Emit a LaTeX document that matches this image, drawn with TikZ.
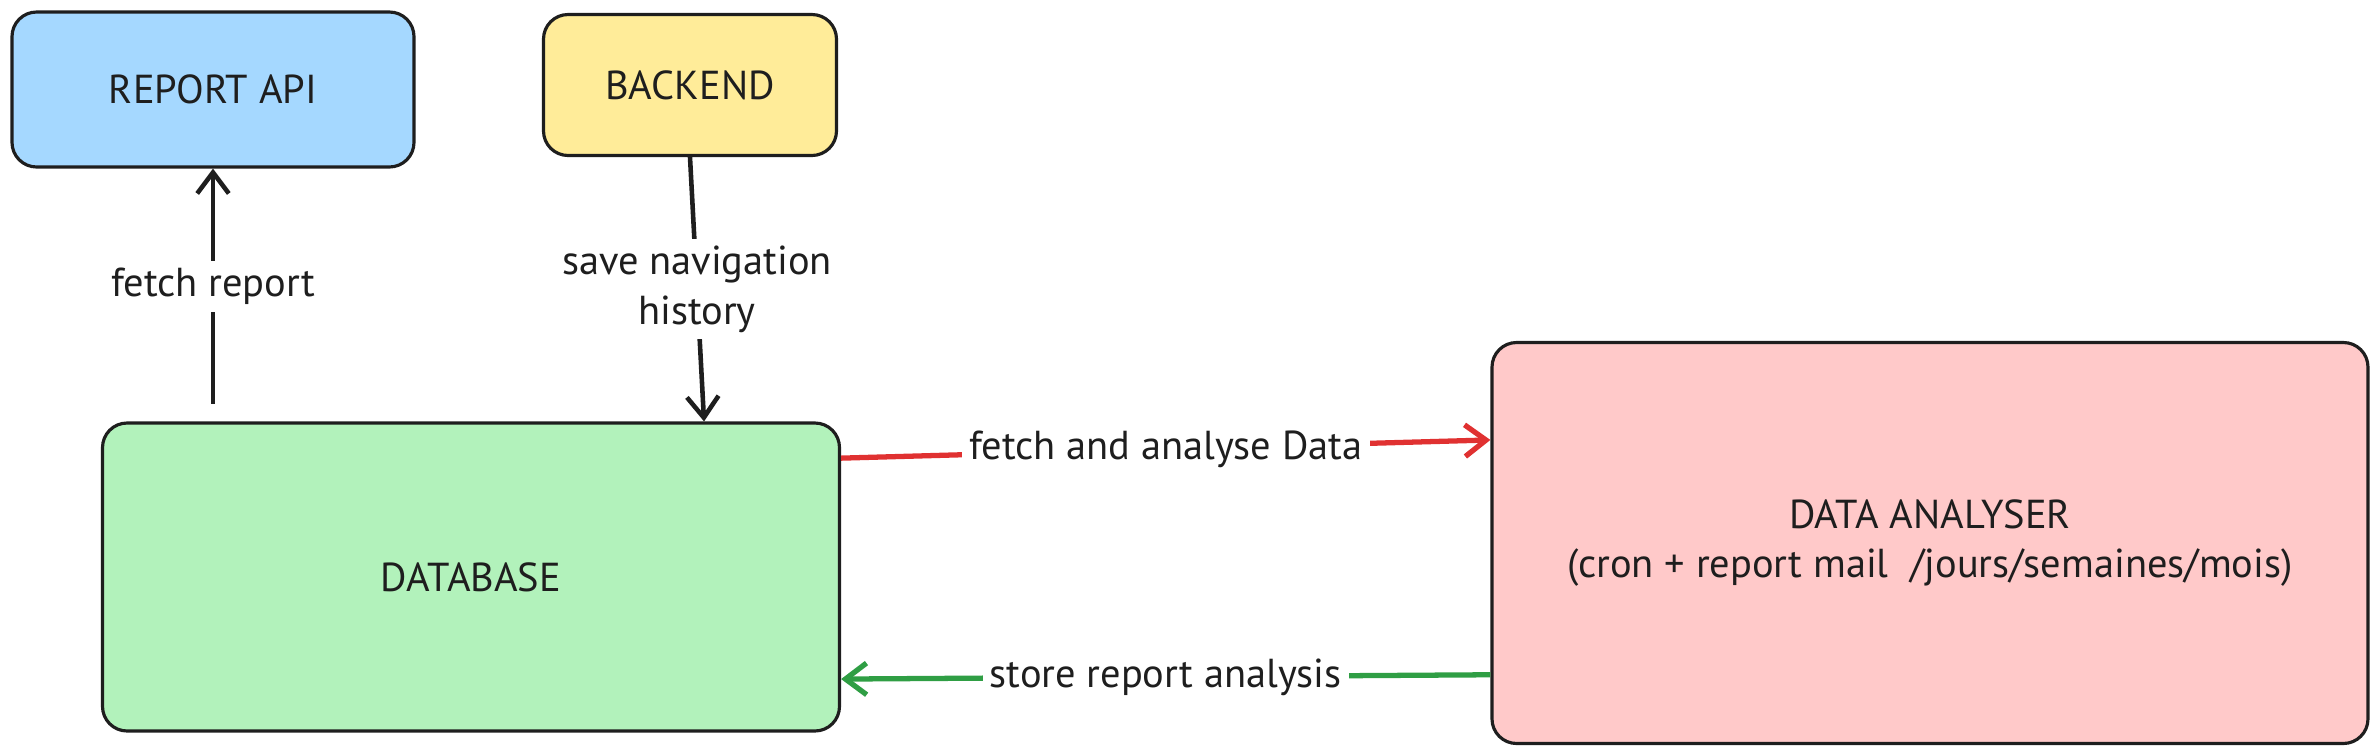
\documentclass[tikz,border=0pt]{standalone}
\usepackage{fontspec}
\setmainfont{PT Sans}
\usetikzlibrary{arrows.meta,positioning,calc}
\definecolor{ink}{HTML}{1E1E1E}
\definecolor{apiblue}{HTML}{A5D8FF}
\definecolor{backyellow}{HTML}{FFEC99}
\definecolor{dbgreen}{HTML}{B2F2BB}
\definecolor{anapink}{HTML}{FFC9C9}
\definecolor{fetchred}{HTML}{E03131}
\definecolor{storegreen}{HTML}{2F9E44}

\begin{document}
\begin{tikzpicture}[
  every node/.style={font=\fontsize{11.5}{14}\selectfont,text=ink},
  blk/.style={draw=ink,line width=0.9pt,rounded corners=7pt,align=center,inner sep=0pt},
  lbl/.style={fill=white,inner sep=2pt,align=center},
  arr/.style={line width=1.3pt,-{Straight Barb[length=6pt,width=9pt]}}]
\useasboundingbox (0,0) rectangle (23.77,7.55);

\node[blk,fill=apiblue,minimum width=4.02cm,minimum height=1.55cm] (api) at (2.13,6.655) {REPORT API};
\node[blk,fill=backyellow,minimum width=2.93cm,minimum height=1.41cm] (backend) at (6.90,6.70) {BACKEND};
\node[blk,fill=dbgreen,minimum width=7.37cm,minimum height=3.08cm] (db) at (4.71,1.78) {DATABASE};
\node[blk,fill=anapink,minimum width=8.76cm,minimum height=4.01cm] (ana) at (19.30,2.12)
  {DATA ANALYSER\\(cron + report mail\ \ /jours/semaines/mois)};

% db <-> api / backend
\draw[arr,draw=ink] ([yshift=5pt]db.north -| api.south) -- node[lbl] {fetch report} (api.south);
\draw[arr,draw=ink] (backend.south) -- node[lbl] {save navigation\\history} ([xshift=4pt]backend.south |- db.north);

% db <-> analyser
\draw[arr,draw=fetchred,line width=1.5pt] ($(db.north east)!0.118!(db.south east)$) -- node[lbl] {fetch and analyse Data} ($(ana.north west)!0.245!(ana.south west)$);
\draw[arr,draw=storegreen,line width=1.5pt] ($(ana.north west)!0.826!(ana.south west)$) -- node[lbl] {store report analysis} ($(db.north east)!0.828!(db.south east)$);
\end{tikzpicture}
\end{document}
